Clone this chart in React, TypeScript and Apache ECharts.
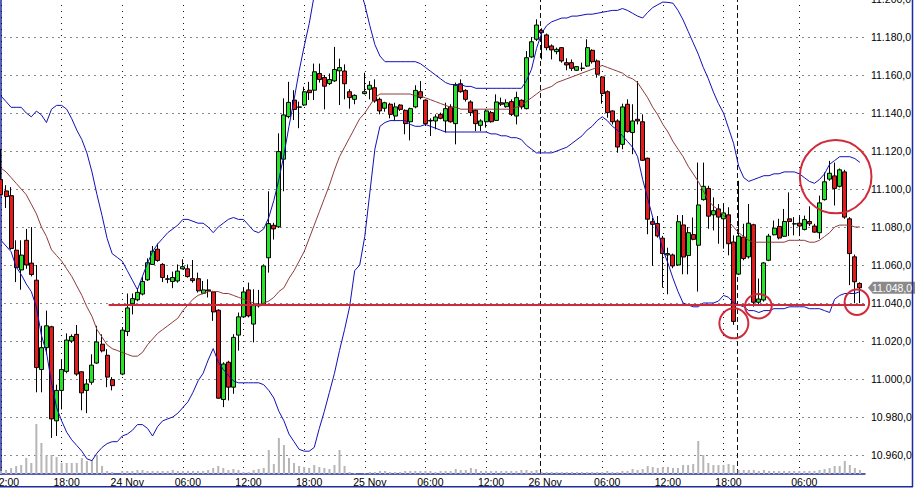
import React, { useEffect, useRef } from 'react';
import * as echarts from 'echarts';

// ---- data: one slot = 30 minutes, index = slot number (null = no trade) ----
const openP = [
  11105, 11099, 11096.5, 11067.8, 11057.4, 11073, 11061, 11052, 11005, 11016.5,
  11027.5, 10978, 10994, 11004, 11020, 11023.5, 11003.8, 10994, 10998.3, 11008.4,
  11018.3, 11012.5, 10999.7, null, 11002.6, 11025, 11039.6, 11041.7, 11044.7, 11052.2,
  11060.3, 11068.3, 11060.3, 11052.7, 11051.3, 11051.6, 11058, 11058, 11052.8, 11052.8,
  11045.1, 11046.9, 11045.8, 11036.2, 10989.2, 11008.8, 10995.7, 11023.1, 11032.7, 11046.9,
  11028.9, 11039.4, 11039.4, 11063.8, 11080.9, 11080.1, 11115.7, 11138.1, 11146.8, 11143,
  11144.2, 11152, 11152, 11160.8, 11158.7, 11155.5, 11156.9, 11162.2, 11162.1, 11151.2,
  11147.2, null, 11150.2, 11152.5, 11153.3, 11147.2, 11142.5, 11144.6, 11138.4, 11144.2,
  11141.4, 11135.4, 11143.2, 11151.2, 11146.8, 11135.8, 11135.8, 11139.3, 11135.8, 11143.2,
  11134.4, 11155.4, 11151.9, 11145.8, 11141.4, 11133.5, 11135.4, 11140.2, 11136.1, 11145.4,
  11143.3, 11146, 11138.4, 11146.7, 11142.3, 11169.5, 11178.8, 11183.5, 11181.1, 11175.3,
  11172.3, 11174.4, 11166.5, 11166.5, 11162.5, 11163.5, 11164.7, 11173, 11167.4, 11159,
  11151.2, 11141.1, 11135.8, 11123.5, 11144.6, 11129.7, 11136.7, 11135.4, 11116.2, 11082.8,
  11081.8, 11074.1, 11065.3, 11065.3, 11060, 11081.1, 11065, 11076, 11070.4, 11094.4,
  11100.3, 11086.4, 11089.5, 11084.3, 11086.4, 11072.1, 11055.2, 11074.7, 11064.3, 11081.2,
  11040.4, 11041.6, 11062.5, 11075.9, 11080.3, 11075.1, 11084.3, 11081.7, 11082, 11078.7,
  11082.9, 11080.5, 11077, 11094.4, 11105.2, 11106.9, 11101.4, 11109, 11084.3, 11064.3,
  11050.3,
];
const highP = [
  11121, 11102, 11101, 11073, 11073, 11079, 11080, 11060, 11028, 11036,
  11028, 10997, 11010, 11024, 11023.5, 11028.4, 11004, 11000, 11013, 11028,
  11023.5, 11015.7, 11001, null, 11027.3, 11045, 11045, 11047.8, 11053.9, 11063.5,
  11070, 11071.3, 11061, 11054.8, 11056.5, 11060.3, 11063, 11060.3, 11062.6, 11056,
  11051.6, 11052.5, 11046.4, 11036.7, 11008.8, 11009.6, 11023.6, 11035, 11048.1, 11050.7,
  11047.2, 11046.9, 11060.3, 11098.8, 11082.2, 11129.3, 11147.7, 11156.4, 11152, 11146,
  11153.8, 11156.4, 11166, 11166, 11160, 11160.8, 11174.8, 11168.6, 11165.6, 11152.5,
  11149.8, null, 11161.2, 11156.8, 11157.7, 11148.1, 11145.9, 11145.4, 11145.4, 11144.6,
  11141.9, 11142.8, 11154.6, 11156.8, 11147.2, 11137.2, 11139.3, 11140.2, 11145.4, 11144.6,
  11156, 11157.7, 11152.5, 11146.7, 11141.9, 11136.7, 11141.9, 11141.1, 11149.8, 11148.1,
  11147.2, 11147.2, 11151.2, 11147.2, 11172.6, 11180, 11189.3, 11184.6, 11181.8, 11176.1,
  11174.4, 11174.7, 11168.8, 11168.2, 11164.7, 11166.5, 11178.8, 11173.5, 11168.2, 11159.5,
  11151.9, 11141.4, 11136.7, 11144.9, 11147.2, 11144.6, 11156.8, 11139.3, 11116.5, 11084.9,
  11085.8, 11075.3, 11069.1, 11066, 11086.3, 11086.3, 11080, 11085, 11113.9, 11113.9,
  11101.7, 11095.6, 11092.1, 11092.1, 11090.4, 11075.6, 11104.3, 11081.7, 11092.1, 11081.7,
  11052.9, 11061.6, 11076.4, 11083.4, 11084.3, 11089.5, 11098.2, 11085.2, 11085.7, 11086,
  11090.9, 11081.7, 11096.5, 11108.7, 11114.8, 11113.9, 11110.8, 11110.1, 11085.2, 11065.5,
  11050.9,
];
const lowP = [
  11097, 11090, 11068, 11051, 11047, 11058, 11054, 10993, 10993, 11013,
  10969, 10970, 10984, 11003, 11019, 11001.7, 10983.5, 10982, 10997, 11008,
  11014, 10995.7, 10994, null, 11002, 11022.6, 11034, 11040.9, 11044, 11051.6,
  11060, 11061.7, 11051, 11050.4, 11047.8, 11050.7, 11057.7, 11053.3, 11050.7, 11045.5,
  11044.6, 11042.9, 11030.6, 10989.6, 10985.2, 10988.7, 10992.2, 11014.9, 11032.4, 11032.4,
  11019.3, 11037.6, 11039, 11056, 11073.4, 11079.5, 11098.8, 11137.2, 11136.3, 11132,
  11143.7, 11146.8, 11146.8, 11156, 11141.9, 11154.7, 11156.4, 11144.2, 11147.2, 11142.3,
  11144.6, null, 11149.8, 11147.2, 11145.4, 11139.3, 11140.7, 11137.2, 11135.8, 11141.1,
  11128.8, 11125.6, 11142.5, 11147.2, 11133.2, 11127.9, 11131.4, 11136.7, 11129.7, 11134.9,
  11123.5, 11150.7, 11146, 11138.4, 11130.5, 11130.5, 11132.3, 11134.9, 11135.8, 11143.7,
  11142.8, 11138.4, 11134, 11141.9, 11141.9, 11169.1, 11177.9, 11168.2, 11173, 11168.2,
  11170.9, 11166.5, 11162.5, 11162.1, 11162.1, 11162.1, 11164.2, 11166, 11158.6, 11144.9,
  11137.5, 11134, 11119.1, 11120.9, 11129.7, 11118.3, 11134, 11114.8, 11076.2, 11059.5,
  11074.4, 11048.1, 11044.6, 11058.3, 11059.5, 11055.1, 11055.1, 11073, 11046, 11093.9,
  11079.1, 11078.2, 11071.2, 11068.6, 11065.1, 11028.5, 11054.7, 11062.5, 11063.4, 11038.1,
  11039, 11040.7, 11062, 11075.6, 11073.5, 11074.7, 11075.2, 11075.6, 11075.2, 11078.2,
  11080.5, 11077, 11073.8, 11093.9, 11104.3, 11091.3, 11100.8, 11084.3, 11049.4, 11039.9,
  11039.9,
];
const closeP = [
  11097, 11096, 11068.7, 11058.6, 11065.2, 11060, 11055, 11006, 11016.5, 11028,
  10979, 10994, 11005, 11020.5, 11022.4, 11002.6, 10992.7, 10997.4, 11007.3, 11019.5,
  11014.8, 11001, 10996.5, null, 11025.7, 11037.4, 11042.3, 11045.6, 11051.3, 11061.2,
  11067.3, 11062.4, 11053.4, 11052.5, 11053.4, 11056.8, 11059.1, 11053.9, 11051.8, 11046.4,
  11046.9, 11046.4, 11035.3, 10989.9, 11007.9, 10995.7, 11021.9, 11032.7, 11045.8, 11033.2,
  11039, 11038.5, 11059.5, 11081.8, 11079, 11119.7, 11139, 11145.6, 11141.9, 11143.2,
  11151.2, 11150.7, 11161.7, 11157.6, 11154.1, 11157.6, 11162.9, 11163.9, 11155.4, 11148.1,
  11149.3, null, 11151.2, 11154.6, 11146.3, 11141.1, 11145.4, 11139.3, 11143.2, 11141.9,
  11134.4, 11142.3, 11151.9, 11148.1, 11134.4, 11136.1, 11137.9, 11137.2, 11142.3, 11135.4,
  11154.6, 11151.2, 11147.2, 11140.2, 11134.4, 11135.8, 11141.1, 11135.4, 11145.8, 11144.6,
  11145.4, 11139.3, 11148.1, 11143.2, 11169.1, 11177.5, 11186.3, 11182.3, 11174.4, 11173.2,
  11173.5, 11167.4, 11165.3, 11163.5, 11164.4, 11163.6, 11174.4, 11167, 11160.4, 11150.2,
  11140.2, 11135.4, 11122.1, 11143.2, 11130.2, 11135.8, 11135.8, 11115.1, 11084.1, 11081.4,
  11075.3, 11066, 11066, 11059.5, 11082.8, 11064.2, 11077, 11073.5, 11091.6, 11101.4,
  11085.7, 11088.6, 11085.2, 11087.4, 11071.2, 11030.3, 11075.2, 11063.4, 11082, 11040.4,
  11042.1, 11061.1, 11075.2, 11079.4, 11074.2, 11082.9, 11082.9, 11081.6, 11080.5, 11083.9,
  11081.7, 11077.3, 11092.7, 11103.8, 11108.3, 11100.3, 11110.1, 11085.2, 11066, 11051.2,
  11048,
];
const volume = [
  3, 4, 6, 8, 9, 16, 11, 50, 31, 19,
  19, 17, 11, 11, 11, 11, 16, 13, 14, 19,
  8, 3, 2, null, 3, 3, 3, 4, 4, 3,
  3, 3, 3, 3, 4, 3, 3, 3, 3, 3,
  3, 4, 6, 8, 6, 4, 5, 4, 2, 2,
  4, 5, 6, 24, 10, 36, 29, 16, 11, 8,
  7, 6, 9, 7, 6, 5, 9, 24, 8, 2,
  1, null, 1, 2, 2, 3, 3, 2, 2, 2,
  3, 3, 3, 3, 3, 3, 2, 3, 3, 3,
  5, 4, 4, 6, 5, 3, 3, 3, 3, 3,
  3, 3, 3, 4, 4, 3, 4, 2, 2, 2,
  2, 2, 2, 2, 2, 2, 2, 2, 2, 2,
  3, 2, 2, 3, 3, 5, 4, 5, 8, 7,
  6, 7, 7, 6, 6, 9, 9, 10, 33, 19,
  11, 9, 9, 9, 10, 9, 4, 4, 4, 4,
  3, 4, 3, 3, 3, 3, 3, 3, 3, 3,
  3, 3, 4, 5, 6, 8, 8, 13, 9, 6,
  4,
];
const upperBand = [
  11149, 11146, 11143, 11143, 11143, 11140, 11138, 11141, 11139, 11135,
  11142, 11144, 11144, 11142, 11137, 11131, 11126, 11119, 11109, 11097,
  11086, 11074, 11066, 11064, 11062, 11057, 11052, 11047, 11054, 11061,
  11067, 11071, 11074, 11077, 11079, 11081, 11084, 11084, 11083, 11082,
  11082, 11080, 11077, 11080, 11082, 11084, 11085, 11084, 11084, 11081,
  11078, 11077, 11079, 11085, 11094, 11105, 11118, 11133, 11147, 11162,
  11175, 11187, 11202, 11210, 11215, 11220, 11223, 11224, 11222, 11218,
  11212, 11206, 11197, 11186, 11176, 11170, 11167, 11167, 11167, 11167,
  11167, 11167, 11167, 11166, 11164, 11162, 11160, 11158, 11156, 11155,
  11155, 11155, 11154, 11154, 11153, 11153, 11153, 11153, 11153, 11153,
  11153, 11153, 11153, 11153, 11157, 11163, 11174, 11182, 11186, 11188,
  11189, 11190, 11190, 11191, 11191, 11191.5, 11192, 11192, 11192.5, 11193,
  11193.5, 11194, 11194, 11195, 11194, 11192.5, 11191, 11190, 11193, 11195.5,
  11197, 11198.4, 11198.2, 11197.8, 11194, 11189, 11183, 11177, 11171, 11164,
  11158, 11151, 11145, 11140, 11132, 11124, 11112, 11106, 11104, 11105,
  11106, 11107, 11107, 11108, 11108, 11109, 11109, 11109, 11108, 11106,
  11104, 11103, 11105, 11108, 11113, 11115, 11117, 11117, 11117, 11116,
  11114,
];
const middleBand = [
  11111, 11109, 11106, 11103, 11100, 11097, 11092, 11087, 11080, 11075,
  11068, 11065, 11062, 11058, 11054, 11049, 11044, 11038, 11033, 11026,
  11022, 11018, 11016, 11015, 11014, 11013, 11012, 11012, 11014, 11018,
  11021, 11024, 11026, 11028, 11030, 11032, 11036, 11039, 11042, 11044,
  11045, 11046, 11046, 11046, 11045, 11045, 11044, 11043, 11042, 11041,
  11040, 11039, 11040, 11041, 11043, 11046, 11048, 11053, 11057, 11062,
  11067, 11074, 11081, 11088, 11095, 11102, 11110, 11117, 11122, 11127,
  11132, 11137, 11140, 11144, 11148, 11150, 11150, 11150, 11150, 11150,
  11150, 11150, 11149, 11149, 11148, 11147, 11146, 11145, 11144, 11143,
  11143, 11142, 11142, 11142, 11142, 11142, 11142, 11142, 11142, 11142,
  11142, 11142, 11143, 11144, 11146, 11148, 11150, 11152, 11153, 11154,
  11156, 11157, 11158, 11159, 11160, 11161, 11162, 11163, 11164, 11165,
  11164, 11163, 11162, 11161, 11159, 11158, 11156, 11152, 11148, 11143,
  11139, 11134, 11130, 11125, 11121, 11117, 11112, 11108, 11104, 11099,
  11094, 11091, 11089, 11086, 11083, 11080, 11077, 11075, 11073, 11072,
  11072, 11072, 11072, 11072, 11072, 11072, 11073, 11073, 11073, 11073,
  11072, 11072, 11073, 11075, 11077, 11080, 11081, 11081, 11081, 11080,
  11080,
];
const lowerBand = [
  11073, 11070, 11067, 11059, 11055, 11050, 11046, 11038, 11023, 11014,
  10998, 10985, 10978, 10972, 10968, 10965, 10962, 10958, 10957, 10961,
  10964, 10966, 10967, 10967, 10970, 10971, 10973, 10976, 10976, 10974,
  10970, 10975, 10978, 10979, 10980, 10982, 10985, 10988, 10993, 10999,
  11003, 11010, 11016, 11009, 11005, 11002, 10999, 10998, 10998, 10998,
  10998, 10998, 10997, 10994, 10990, 10983, 10978, 10971, 10967, 10963,
  10962, 10962, 10964, 10974, 10983, 10993, 11003, 11015, 11026, 11038,
  11057, 11060, 11075, 11098, 11121, 11133, 11135, 11136, 11136, 11136,
  11136, 11134, 11133, 11133, 11134, 11133, 11132, 11131, 11130, 11130,
  11130, 11130, 11130, 11130, 11130, 11130, 11130, 11129, 11129, 11128,
  11128, 11127, 11127, 11126, 11123, 11121, 11119, 11119, 11119, 11119,
  11120, 11121, 11122, 11124, 11126, 11128, 11131, 11133, 11136, 11138,
  11136, 11133, 11131, 11128, 11125, 11122, 11117, 11105, 11095, 11085,
  11078, 11068, 11061, 11053, 11046, 11040, 11039, 11038, 11038, 11040,
  11040, 11040, 11041, 11044, 11043, 11040, 11039, 11038, 11036, 11036,
  11035, 11036, 11036, 11037, 11037, 11037, 11038, 11038, 11038, 11038,
  11037, 11037, 11037, 11036, 11035, 11042, 11044, 11045, 11045, 11045,
  11046,
];
// time grid (slot numbers of 6-hour marks) and their labels
const timeTicks = [0, 12, 24, 36, 48, 60, 72, 84, 96, 106.7, 119, 131, 143, 158];
const timeLabels = ['12:00', '18:00', '24 Nov', '06:00', '12:00', '18:00', '25 Nov', '06:00', '12:00', '26 Nov', '06:00', '12:00', '18:00', '06:00'];
const sessionBreaks = [106.7, 145.7];
const supportLevel = 11039;
const supportFromSlot = 21.3;
// annotation rings: [slot, price]
const ringSlots = [145.05, 149.9, 169.4, 165.2];
const ringPrices = [11029.3, 11038.3, 11040.4, 11106.5];

// ---- styles ----
const FONT = "'Liberation Sans', Arial, sans-serif";
const AXIS_BLUE = '#1f2a9c';
const ringRadii = [[14.5, 15], [13.3, 12.2], [12.3, 12.8], [35.8, 36.7]];

const fmtPrice = (v: number) => {
  const t = Math.floor(v / 1000);
  const r = Math.round(v - t * 1000);
  return `${t}.${String(r).padStart(3, '0')},0`;
};

export default function App() {
  const ref = useRef<HTMLDivElement>(null);
  useEffect(() => {
    const chart = echarts.init(ref.current!, null, { renderer: 'svg' });
    const candles: any[] = [];
    const vols: any[] = [];
    openP.forEach((o, i) => {
      if (o == null) return;
      candles.push([i, o, closeP[i], lowP[i], highP[i]]);
      vols.push([i, volume[i]]);
    });
    const band = (arr: number[]) => arr.map((v, i) => [i, v]);
    const lastSlot = closeP.length - 1;

    chart.setOption({
      animation: false,
      backgroundColor: '#ffffff',
      textStyle: { fontFamily: FONT },
      grid: { left: -1.53, top: -1, width: 866.5, height: 475, containLabel: false, outerBoundsMode: 'none' },
      xAxis: {
        type: 'value', min: -0.5, max: 171, position: 'bottom',
        axisLine: { show: true, onZero: false, lineStyle: { color: AXIS_BLUE, width: 1.5 } },
        axisTick: { show: false },
        splitLine: { show: false },
        axisLabel: {
          customValues: timeTicks,
          formatter: (v: number) => {
            const k = timeTicks.findIndex((t) => Math.abs(t - v) < 1e-6);
            return k >= 0 ? timeLabels[k] : '';
          },
          color: '#000', fontSize: 10.5, fontFamily: FONT, margin: 2, padding: [0, 0, 0, 10],
          hideOverlap: false, showMinLabel: true, showMaxLabel: true,
        },
      },
      yAxis: [
        {
          type: 'value', position: 'right', min: 10950, max: 11200, interval: 10,
          axisLine: { show: true, lineStyle: { color: AXIS_BLUE, width: 1.5 } },
          axisTick: { show: false },
          axisLabel: {
            formatter: (v: number) => (Math.round(v) % 20 === 0 ? fmtPrice(v) : ''),
            color: '#000', fontSize: 10.5, fontFamily: FONT, margin: 6,
            showMinLabel: true, showMaxLabel: true,
          },
          splitLine: { show: true, lineStyle: { color: ['rgba(0,0,0,0)', '#111'], type: [1, 5], width: 1 } },
        },
        { type: 'value', min: 0, max: 475, show: false },
      ],
      series: [
        {
          type: 'bar', name: 'Volume', xAxisIndex: 0, yAxisIndex: 1, data: vols, barWidth: 2,
          itemStyle: { color: '#b6b6b6' }, z: 1, silent: true,
          markLine: {
            z: 1, silent: true, symbol: ['none', 'none'], label: { show: false },
            emphasis: { disabled: true },
            lineStyle: { color: '#111', type: [1, 5], width: 1 },
            data: [
              ...timeTicks.filter((t) => !sessionBreaks.includes(t)).map((t) => ({ xAxis: t })),
              ...sessionBreaks.map((t) => ({ xAxis: t, lineStyle: { color: '#111', type: [5, 3], width: 1 } })),
            ],
          },
        },
        {
          type: 'candlestick', name: 'Price', data: candles, barWidth: 4.5, z: 3,
          dimensions: ['slot', 'open', 'close', 'lowest', 'highest'],
          encode: { x: 0, y: [1, 2, 3, 4] },
          itemStyle: { color: '#25e425', color0: '#e51a1a', borderColor: '#000', borderColor0: '#000', borderWidth: 1 },
          markLine: {
            z: 6, silent: true, symbol: ['none', 'none'], label: { show: false },
            emphasis: { disabled: true },
            lineStyle: { color: '#cc2a3c', type: 'solid', width: 2 },
            data: [[{ coord: [supportFromSlot, supportLevel] }, { coord: [171, supportLevel] }]],
          },
        },
        { type: 'line', name: 'Upper', data: band(upperBand), showSymbol: false, z: 4, lineStyle: { color: '#1010b8', width: 1 } },
        { type: 'line', name: 'Middle', data: band(middleBand), showSymbol: false, z: 4, lineStyle: { color: '#8e3b3b', width: 1 } },
        { type: 'line', name: 'Lower', data: band(lowerBand), showSymbol: false, z: 4, lineStyle: { color: '#1010b8', width: 1 } },
      ],
    });

    const px = (s: number, p: number) => chart.convertToPixel({ gridIndex: 0 }, [s, p]) as number[];
    const rings = ringSlots.map((s, i) => {
      const [cx, cy] = px(s, ringPrices[i]);
      return {
        type: 'ellipse', silent: true, z: 20,
        shape: { cx, cy, rx: ringRadii[i][0], ry: ringRadii[i][1] },
        style: { fill: 'none', stroke: '#d02b3b', lineWidth: 2 },
      };
    });
    const lastClose = closeP[lastSlot] as number;
    const [axX, tagY] = px(171, lastClose);
    chart.setOption({
      graphic: [
        ...rings,
        {
          type: 'polygon', silent: true, z: 20,
          shape: { points: [[axX + 3, tagY], [axX + 8, tagY - 6], [915, tagY - 6], [915, tagY + 6], [axX + 8, tagY + 6]] },
          style: { fill: '#8a8a8a' },
        },
        {
          type: 'text', silent: true, z: 21, x: axX + 7, y: tagY,
          style: { text: fmtPrice(lastClose), fill: '#ffffff', font: `10.5px ${FONT}`, verticalAlign: 'middle', align: 'left' },
        },
        { type: 'line', silent: true, z: 20, shape: { x1: 912.5, y1: 0, x2: 912.5, y2: 487 }, style: { stroke: AXIS_BLUE, lineWidth: 1.5 } },
        { type: 'line', silent: true, z: 20, shape: { x1: 0, y1: 486.8, x2: 913, y2: 486.8 }, style: { stroke: AXIS_BLUE, lineWidth: 1.5 } },
      ],
    });
    return () => chart.dispose();
  }, []);
  return <div ref={ref} style={{ position: 'absolute', left: 0, top: 0, width: 915, height: 488, background: '#fff' }} />;
}
